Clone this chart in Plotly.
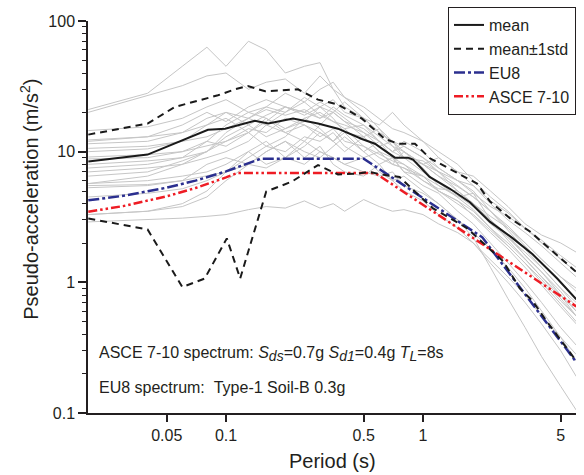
import plotly.graph_objects as go

# ---------------- data ----------------
periods = [0.02, 0.04, 0.06, 0.08, 0.1, 0.13, 0.16, 0.2, 0.25, 0.3, 0.35, 0.4, 0.5,
           0.6, 0.7, 0.8, 1.0, 1.2, 1.5, 1.8, 2.2, 2.7, 3.3, 4.0, 5.0, 6.0]

rec01 = [21, 28, 45, 63, 45, 70, 60, 40, 45, 48, 30, 22, 18, 14, 12, 10, 8, 6.5, 5, 4, 3, 2.3, 1.6, 1.2, 0.8, 0.55]
rec02 = [20, 27, 32, 38, 40, 30, 34, 36, 28, 38, 30, 26, 20, 15, 12, 11, 9, 7, 5.5, 4.5, 3.5, 2.6, 1.9, 1.4, 1.0, 0.75]
rec03 = [14.5, 15.5, 18, 22, 25, 20, 22, 28, 24, 30, 34, 26, 22, 18, 15, 14, 12, 10, 8, 6, 4.5, 3.5, 2.6, 2.0, 1.5, 1.2]
rec04 = [12.3, 13, 14, 16, 20, 18, 22, 20, 26, 22, 25, 20, 18, 16, 20, 16, 12, 9, 7, 6.5, 5, 3.8, 2.8, 2.3, 2.0, 1.7]
rec05 = [11.5, 12, 14, 18, 20, 16, 19, 22, 20, 18, 20, 24, 18, 14, 12, 9, 8, 7, 6, 5, 3.5, 2.5, 1.8, 1.3, 0.9, 0.65]
rec06 = [10.6, 11, 12, 13, 15, 18, 16, 20, 24, 19, 17, 15, 16, 12, 10, 11, 9, 7.5, 6.0, 5.5, 4.0, 3.0, 2.4, 1.9, 1.4, 1.1]
rec07 = [9.1, 9.5, 10, 12, 11, 14, 18, 15, 17, 22, 18, 14, 13, 15, 11, 9, 8.5, 7, 5, 4, 3.2, 2.6, 2.0, 1.5, 1.1, 0.85]
rec08 = [8.8, 9, 10, 11, 12, 15, 14, 18, 16, 14, 12, 15, 11, 9, 8, 10, 7.5, 5.5, 4.5, 4.8, 3.0, 2.2, 1.6, 1.2, 0.85, 0.6]
rec09 = [7.0, 7.5, 8, 9, 10, 12, 16, 14, 12, 16, 20, 17, 13, 10, 9, 8, 6, 5, 4.2, 3.5, 2.6, 2.0, 1.5, 1.1, 0.75, 0.55]
rec10 = [5.7, 6.5, 8, 10, 12, 14, 11, 13, 18, 15, 12, 14, 10, 12, 9, 7, 6.5, 5, 4.2, 3.2, 2.4, 1.8, 1.3, 0.95, 0.65, 0.48]
rec11 = [5.7, 6, 6.5, 7, 8, 10, 12, 9, 11, 14, 12, 10, 13, 10, 8, 7.5, 6, 5.2, 5, 4.0, 3.0, 2.1, 1.5, 1.1, 0.8, 0.6]
rec12 = [5.5, 5.6, 6, 6.5, 7, 8, 10, 12, 10, 9, 11, 13, 10, 8, 9, 7, 5.5, 4.8, 3.5, 2.8, 2.0, 1.4, 1.0, 0.7, 0.45, 0.33]
rec13 = [5.3, 5.5, 6, 8, 9, 8, 7.5, 9, 8, 10, 9, 8, 9, 7, 6, 6.5, 5, 4, 3, 2.4, 1.8, 1.3, 0.9, 0.6, 0.38, 0.25]
rec14 = [3.3, 3.5, 3.8, 4.5, 6, 8, 10, 12, 9, 11, 8, 7, 6.5, 8, 6, 5, 4.2, 3.3, 2.6, 2.0, 1.4, 1.0, 0.7, 0.48, 0.3, 0.19]
rec15 = [2.9, 3.0, 3.1, 3.2, 3.3, 3.6, 3.8, 3.7, 4.2, 3.7, 4.0, 3.5, 4.3, 3.8, 3.5, 3.6, 3.3, 2.8, 2.4, 2.0, 1.5, 1.1, 0.8, 0.55, 0.38, 0.28]
rec16 = [3.3, 3.5, 4, 5, 7, 10, 8, 9, 12, 10, 9, 8, 7, 6.5, 7, 5.5, 4.8, 4.0, 3.0, 2.2, 1.3, 0.75, 0.45, 0.27, 0.16, 0.105]
rec17 = [8.0, 8.5, 9, 10, 14, 18, 21, 19, 21, 18, 22, 19, 16, 13, 11, 10, 8, 9, 7, 5.5, 4.2, 3.4, 2.6, 2.0, 1.5, 1.2]
rec18 = [10, 10.5, 12, 16, 18, 14, 17, 22, 20, 24, 21, 18, 14, 12, 10, 12, 10, 7.5, 6.0, 4.8, 3.8, 3.2, 2.6, 2.1, 1.6, 1.3]
rec19 = [6.5, 7, 8.5, 10, 13, 16, 13, 15, 18, 20, 17, 16, 14, 11, 12, 10, 8, 6.5, 5.4, 4.5, 3.5, 2.7, 2.0, 1.5, 1.1, 0.9]
rec20 = [12, 13, 16, 20, 17, 22, 25, 22, 19, 22, 20, 17, 15, 12, 10, 9, 7, 5.8, 4.5, 3.6, 2.6, 1.9, 1.4, 1.0, 0.68, 0.5]
rec21 = [4.5, 4.8, 5.2, 6, 7, 9, 11, 10, 13, 12, 14, 11, 9, 10, 8, 7.5, 6.5, 5.5, 4.6, 3.8, 2.8, 2.2, 1.7, 1.3, 0.9, 0.7]
rec22 = [7.5, 8, 9, 12, 16, 20, 18, 14, 16, 13, 15, 12, 11, 9.5, 8.5, 8, 6.5, 5, 4.0, 3.3, 2.5, 1.9, 1.4, 1.05, 0.72, 0.55]

records = [rec01, rec02, rec03, rec04, rec05, rec06, rec07, rec08, rec09, rec10, rec11,
           rec12, rec13, rec14, rec15, rec16, rec17, rec18, rec19, rec20, rec21, rec22]

mean_T = [0.02, 0.04, 0.081, 0.099, 0.14, 0.164, 0.219, 0.293, 0.37, 0.49, 0.57, 0.72,
          0.84, 0.89, 1.08, 1.37, 1.73, 2.19, 2.86, 3.6, 4.8, 6.0]
mean_Sa = [8.4, 9.5, 14.7, 15, 17.2, 16.4, 17.9, 16.4, 15, 12.5, 11.5, 9.0,
           9.0, 8.7, 6.4, 5.2, 4.1, 2.9, 2.17, 1.64, 1.07, 0.74]

upper_T = [0.02, 0.04, 0.055, 0.091, 0.111, 0.129, 0.158, 0.232, 0.293, 0.37, 0.49, 0.64,
           0.75, 0.91, 1.085, 1.54, 1.88, 2.19, 2.76, 3.49, 4.41, 6.0]
upper_Sa = [13.5, 16.4, 22, 27, 30, 31.8, 29, 30, 25, 23, 17.9, 12.5,
            11.5, 11.5, 8.9, 6.7, 5.7, 4.15, 3.1, 2.45, 1.8, 1.2]

lower_T = [0.02, 0.04, 0.06, 0.078, 0.101, 0.118, 0.16, 0.216, 0.293, 0.37, 0.47, 0.53,
           0.65, 0.76, 0.93, 1.12, 1.67, 2.19, 2.55, 3.1, 3.6, 4.26, 6.0]
lower_Sa = [3.08, 2.54, 0.92, 1.07, 2.17, 1.07, 4.95, 5.9, 7.9, 6.7, 6.8, 7.0,
            6.6, 6.4, 4.8, 3.7, 2.6, 1.8, 1.45, 0.9, 0.72, 0.5, 0.25]

eu8_T = [0.02, 0.03, 0.05, 0.07, 0.1, 0.15, 0.5, 0.6, 0.7, 0.8, 1.0, 1.5, 2.0, 2.5, 3.0, 4.0, 5.0, 6.0]
eu8_Sa = [4.24, 4.59, 5.30, 6.00, 7.06, 8.83, 8.83, 7.36, 6.31, 5.52, 4.41, 2.94, 2.21, 1.41, 0.98, 0.55, 0.353, 0.245]

asce_T = [0.02, 0.03, 0.05, 0.07, 0.1, 0.114, 0.571, 0.7, 0.8, 1.0, 1.5, 2.0, 3.0, 4.0, 5.0, 6.0]
asce_Sa = [3.47, 3.83, 4.55, 5.27, 6.35, 6.87, 6.87, 5.61, 4.91, 3.92, 2.62, 1.96, 1.31, 0.98, 0.785, 0.654]

x_tickvals = [0.05, 0.1, 0.5, 1, 5]
x_ticktext = ["0.05", "0.1", "0.5", "1", "5"]
y_tickvals = [0.1, 1, 10, 100]
y_ticktext = ["0.1", "1", "10", "100"]
y_minor = [m * d for d in (0.1, 1, 10) for m in range(2, 10)]

FONT = "Arial, 'Liberation Sans', sans-serif"


def sub(s):
    return "<sub><span style='font-size:14px'>" + s + "</span></sub>"


asce_label = ("ASCE 7-10 spectrum: <i>S" + sub("ds") + "</i>=0.7g <i>S" + sub("d1")
              + "</i>=0.4g <i>T" + sub("L") + "</i>=8s")

# ---------------- figure ----------------
fig = go.Figure()

for rec in records:
    fig.add_trace(go.Scatter(x=periods, y=rec, mode="lines",
                             line=dict(color="#c6c6c6", width=1),
                             showlegend=False, hoverinfo="skip"))

fig.add_trace(go.Scatter(x=eu8_T, y=eu8_Sa, mode="lines", name="EU8", legendrank=3,
                         line=dict(color="#2b2f8f", width=2.5, dash="11px,3px,3px,3px")))
fig.add_trace(go.Scatter(x=asce_T, y=asce_Sa, mode="lines", name="ASCE 7-10", legendrank=4,
                         line=dict(color="#ee1c24", width=2.5, dash="9px,3px,2.5px,3px,2.5px,3px")))
fig.add_trace(go.Scatter(x=lower_T, y=lower_Sa, mode="lines", showlegend=False,
                         line=dict(color="#1a1a1a", width=2, dash="7px,5px")))
fig.add_trace(go.Scatter(x=upper_T, y=upper_Sa, mode="lines", name="mean\u00b11std", legendrank=2,
                         line=dict(color="#1a1a1a", width=2, dash="7px,5px")))
fig.add_trace(go.Scatter(x=mean_T, y=mean_Sa, mode="lines", name="mean", legendrank=1,
                         line=dict(color="#1a1a1a", width=2)))

fig.update_layout(
    width=584, height=475,
    margin=dict(l=88, r=8, t=20, b=62),
    paper_bgcolor="white", plot_bgcolor="white",
    font=dict(family=FONT, size=16, color="#231f20"),
    legend=dict(x=1.0, xanchor="right", y=1.033, yanchor="top",
                bgcolor="white", bordercolor="#231f20", borderwidth=1,
                font=dict(size=16), tracegroupgap=0, itemwidth=30),
    annotations=[
        dict(text=asce_label,
             xref="paper", yref="paper", x=0.018, y=0.15, xanchor="left", yanchor="middle",
             showarrow=False, font=dict(size=16)),
        dict(text="EU8 spectrum:\u00a0\u00a0Type-1 Soil-B 0.3g",
             xref="paper", yref="paper", x=0.018, y=0.066, xanchor="left", yanchor="middle",
             showarrow=False, font=dict(size=16)),
        dict(text="Pseudo-acceleration (m/s<sup>2</sup>)", textangle=-90,
             xref="paper", yref="paper", x=-0.12, y=0.545, xanchor="center", yanchor="middle",
             showarrow=False, font=dict(size=20)),
        dict(text="Period (s)",
             xref="paper", yref="paper", x=0.5, y=-0.122, xanchor="center", yanchor="middle",
             showarrow=False, font=dict(size=20)),
    ],
)

fig.update_xaxes(type="log", range=[-1.7005, 0.7766],
                 tickmode="array", tickvals=x_tickvals, ticktext=x_ticktext,
                 ticks="outside", ticklen=7, tickwidth=1.5, tickcolor="#231f20",
                 showline=True, linecolor="#231f20", linewidth=1.5,
                 showgrid=False, zeroline=False, tickfont=dict(size=16))
fig.update_yaxes(type="log", range=[-1, 2],
                 tickmode="array", tickvals=y_tickvals, ticktext=y_ticktext,
                 ticks="outside", ticklen=8, tickwidth=1.5, tickcolor="#231f20",
                 minor=dict(tickmode="array", tickvals=y_minor, ticks="outside",
                            ticklen=4, tickwidth=1.2, tickcolor="#231f20", showgrid=False),
                 showline=True, linecolor="#231f20", linewidth=1.5,
                 showgrid=False, zeroline=False, tickfont=dict(size=16))

fig.write_html("out.html")
